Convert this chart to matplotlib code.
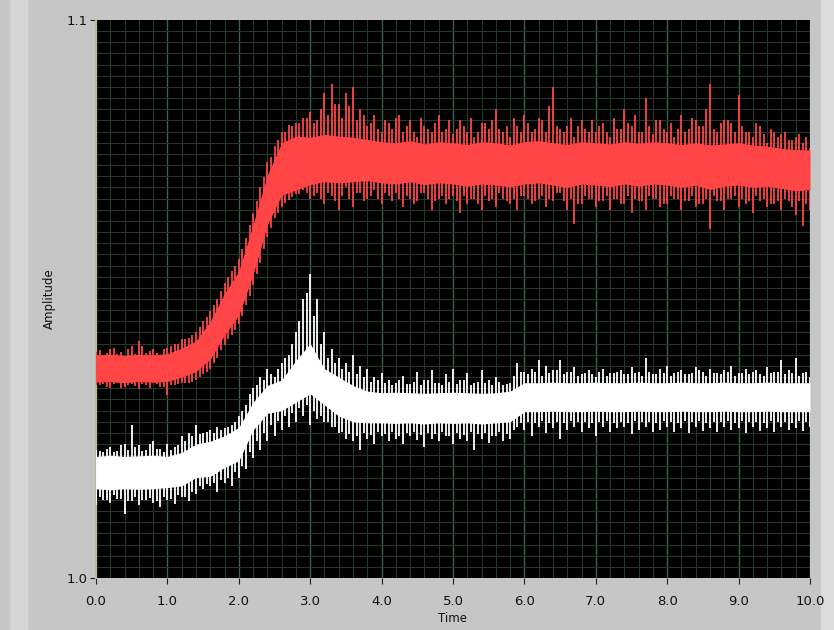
import numpy as np
import matplotlib
matplotlib.use("Agg")
import matplotlib.pyplot as plt
from matplotlib.ticker import MultipleLocator

# --- data ---
# core (solid) band, one value every 0.2 s
time_band = np.round(np.arange(0, 10.01, 0.2), 1)

red_core_lo = [1.0351, 1.0352, 1.0350, 1.0352, 1.0351, 1.0352, 1.0360, 1.0370, 1.0392, 1.0435,
               1.0471, 1.0543, 1.0633, 1.0686, 1.0695, 1.0705, 1.0710, 1.0708, 1.0710, 1.0712,
               1.0708, 1.0706, 1.0710, 1.0705, 1.0708, 1.0706, 1.0702, 1.0706, 1.0704, 1.0701,
               1.0706, 1.0708, 1.0704, 1.0700, 1.0706, 1.0704, 1.0701, 1.0706, 1.0702, 1.0706,
               1.0704, 1.0700, 1.0704, 1.0696, 1.0702, 1.0704, 1.0700, 1.0702, 1.0698, 1.0694,
               1.0696]
red_core_hi = [1.0400, 1.0401, 1.0399, 1.0401, 1.0400, 1.0402, 1.0412, 1.0425, 1.0460, 1.0510,
               1.0550, 1.0633, 1.0722, 1.0780, 1.0792, 1.0790, 1.0795, 1.0792, 1.0790, 1.0786,
               1.0782, 1.0780, 1.0784, 1.0778, 1.0782, 1.0780, 1.0777, 1.0782, 1.0780, 1.0776,
               1.0782, 1.0784, 1.0780, 1.0777, 1.0782, 1.0780, 1.0778, 1.0782, 1.0779, 1.0782,
               1.0780, 1.0777, 1.0780, 1.0776, 1.0778, 1.0780, 1.0776, 1.0774, 1.0770, 1.0768,
               1.0767]
white_core_lo = [1.0160, 1.0158, 1.0160, 1.0159, 1.0160, 1.0162, 1.0165, 1.0180, 1.0182, 1.0198,
                 1.0210, 1.0265, 1.0295, 1.0300, 1.0315, 1.0330, 1.0310, 1.0290, 1.0280, 1.0278,
                 1.0278, 1.0277, 1.0278, 1.0276, 1.0278, 1.0277, 1.0278, 1.0276, 1.0278, 1.0280,
                 1.0298, 1.0298, 1.0299, 1.0298, 1.0298, 1.0299, 1.0298, 1.0298, 1.0299, 1.0298,
                 1.0298, 1.0299, 1.0298, 1.0298, 1.0299, 1.0298, 1.0298, 1.0299, 1.0298, 1.0298,
                 1.0298]
white_core_hi = [1.0218, 1.0220, 1.0218, 1.0219, 1.0220, 1.0218, 1.0225, 1.0240, 1.0245, 1.0255,
                 1.0270, 1.0315, 1.0345, 1.0355, 1.0390, 1.0420, 1.0375, 1.0360, 1.0345, 1.0335,
                 1.0332, 1.0333, 1.0332, 1.0331, 1.0332, 1.0333, 1.0332, 1.0331, 1.0332, 1.0335,
                 1.0350, 1.0350, 1.0351, 1.0350, 1.0350, 1.0351, 1.0350, 1.0350, 1.0351, 1.0350,
                 1.0350, 1.0351, 1.0350, 1.0350, 1.0351, 1.0350, 1.0350, 1.0351, 1.0350, 1.0350,
                 1.0350]

# tall noise spikes (tip values), one every 0.1 s
time_spike = np.round(np.arange(0, 10.001, 0.1), 1)

red_peak = [1.0405, 1.0400, 1.0410, 1.0402, 1.0398, 1.0415, 1.0425, 1.0403, 1.0410, 1.0400,
            1.0412, 1.0420, 1.0428, 1.0430, 1.0440, 1.0460, 1.0478, 1.0500, 1.0528, 1.0550,
            1.0572, 1.0610, 1.0655, 1.0700, 1.0745, 1.0775, 1.0800, 1.0812, 1.0815, 1.0825,
            1.0835, 1.0820, 1.0870, 1.0885, 1.0850, 1.0870, 1.0880, 1.0840, 1.0810, 1.0830,
            1.0800, 1.0815, 1.0825, 1.0800, 1.0820, 1.0790, 1.0810, 1.0800, 1.0830, 1.0805,
            1.0795, 1.0820, 1.0800, 1.0790, 1.0815, 1.0805, 1.0840, 1.0800, 1.0790, 1.0810,
            1.0830, 1.0800, 1.0825, 1.0800, 1.0880, 1.0805, 1.0810, 1.0790, 1.0820, 1.0800,
            1.0800, 1.0815, 1.0790, 1.0805, 1.0840, 1.0810, 1.0800, 1.0860, 1.0795, 1.0820,
            1.0800, 1.0790, 1.0830, 1.0805, 1.0820, 1.0810, 1.0885, 1.0800, 1.0820, 1.0815,
            1.0865, 1.0800, 1.0790, 1.0810, 1.0780, 1.0800, 1.0795, 1.0785, 1.0790, 1.0780,
            1.0770]
red_dip = [1.0345, 1.0348, 1.0340, 1.0350, 1.0342, 1.0348, 1.0338, 1.0345, 1.0350, 1.0342,
           1.0328, 1.0345, 1.0350, 1.0350, 1.0355, 1.0365, 1.0375, 1.0395, 1.0418, 1.0435,
           1.0455, 1.0490, 1.0525, 1.0565, 1.0612, 1.0645, 1.0665, 1.0678, 1.0688, 1.0695,
           1.0680, 1.0690, 1.0670, 1.0685, 1.0660, 1.0700, 1.0665, 1.0690, 1.0680, 1.0695,
           1.0670, 1.0685, 1.0690, 1.0665, 1.0680, 1.0675, 1.0690, 1.0660, 1.0680, 1.0670,
           1.0685, 1.0655, 1.0670, 1.0680, 1.0660, 1.0675, 1.0665, 1.0680, 1.0670, 1.0660,
           1.0685, 1.0670, 1.0680, 1.0665, 1.0675, 1.0690, 1.0660, 1.0635, 1.0670, 1.0680,
           1.0665, 1.0675, 1.0660, 1.0680, 1.0670, 1.0655, 1.0675, 1.0660, 1.0680, 1.0665,
           1.0670, 1.0680, 1.0660, 1.0675, 1.0665, 1.0670, 1.0625, 1.0675, 1.0660, 1.0680,
           1.0665, 1.0670, 1.0655, 1.0675, 1.0665, 1.0670, 1.0660, 1.0675, 1.0650, 1.0630,
           1.0660]
white_peak = [1.0230, 1.0225, 1.0235, 1.0228, 1.0240, 1.0275, 1.0238, 1.0230, 1.0245, 1.0232,
              1.0240, 1.0235, 1.0255, 1.0260, 1.0275, 1.0260, 1.0265, 1.0270, 1.0268, 1.0275,
              1.0290, 1.0310, 1.0340, 1.0360, 1.0375, 1.0360, 1.0385, 1.0400, 1.0440, 1.0500,
              1.0545, 1.0500, 1.0440, 1.0410, 1.0395, 1.0385, 1.0400, 1.0380, 1.0375, 1.0360,
              1.0368, 1.0355, 1.0350, 1.0362, 1.0348, 1.0370, 1.0355, 1.0372, 1.0350, 1.0365,
              1.0375, 1.0355, 1.0368, 1.0350, 1.0372, 1.0355, 1.0360, 1.0345, 1.0350, 1.0385,
              1.0370, 1.0375, 1.0390, 1.0380, 1.0372, 1.0390, 1.0370, 1.0378, 1.0365, 1.0372,
              1.0360, 1.0375, 1.0368, 1.0370, 1.0365, 1.0378, 1.0370, 1.0395, 1.0365, 1.0375,
              1.0380, 1.0368, 1.0372, 1.0365, 1.0378, 1.0370, 1.0375, 1.0368, 1.0372, 1.0380,
              1.0368, 1.0375, 1.0370, 1.0365, 1.0378, 1.0370, 1.0390, 1.0372, 1.0395, 1.0368,
              1.0360]
white_dip = [1.0130, 1.0140, 1.0135, 1.0142, 1.0115, 1.0138, 1.0130, 1.0140, 1.0135, 1.0128,
             1.0140, 1.0132, 1.0145, 1.0138, 1.0150, 1.0160, 1.0165, 1.0155, 1.0170, 1.0165,
             1.0180, 1.0195, 1.0215, 1.0230, 1.0245, 1.0255, 1.0265, 1.0270, 1.0280, 1.0290,
             1.0275, 1.0285, 1.0280, 1.0270, 1.0260, 1.0250, 1.0245, 1.0230, 1.0250, 1.0240,
             1.0255, 1.0245, 1.0250, 1.0240, 1.0255, 1.0248, 1.0235, 1.0250, 1.0245, 1.0255,
             1.0240, 1.0250, 1.0245, 1.0230, 1.0250, 1.0242, 1.0255, 1.0245, 1.0250, 1.0270,
             1.0265, 1.0255, 1.0270, 1.0260, 1.0268, 1.0250, 1.0265, 1.0270, 1.0262, 1.0268,
             1.0255, 1.0270, 1.0262, 1.0268, 1.0270, 1.0258, 1.0265, 1.0270, 1.0262, 1.0266,
             1.0270, 1.0262, 1.0268, 1.0260, 1.0270, 1.0264, 1.0268, 1.0262, 1.0270, 1.0265,
             1.0268, 1.0260, 1.0270, 1.0264, 1.0268, 1.0262, 1.0270, 1.0266, 1.0268, 1.0264,
             1.0270]

# shorter in-between spikes, at 0.05, 0.15, ... 9.95 s
time_spike2 = np.round(np.arange(0.05, 10.0, 0.1), 2)

red_peak2 = [1.0408, 1.0403, 1.0412, 1.0405, 1.0410, 1.0402, 1.0415, 1.0406, 1.0403, 1.0410,
             1.0415, 1.0420, 1.0428, 1.0435, 1.0450, 1.0468, 1.0490, 1.0515, 1.0540, 1.0560,
             1.0590, 1.0632, 1.0675, 1.0718, 1.0755, 1.0785, 1.0800, 1.0810, 1.0815, 1.0825,
             1.0815, 1.0840, 1.0830, 1.0850, 1.0825, 1.0845, 1.0820, 1.0830, 1.0815, 1.0805,
             1.0820, 1.0805, 1.0830, 1.0810, 1.0800, 1.0825, 1.0805, 1.0815, 1.0800, 1.0820,
             1.0805, 1.0810, 1.0825, 1.0800, 1.0815, 1.0820, 1.0805, 1.0810, 1.0825, 1.0800,
             1.0815, 1.0805, 1.0820, 1.0845, 1.0810, 1.0800, 1.0825, 1.0810, 1.0805, 1.0820,
             1.0810, 1.0800, 1.0825, 1.0805, 1.0815, 1.0830, 1.0800, 1.0810, 1.0820, 1.0805,
             1.0815, 1.0805, 1.0800, 1.0825, 1.0810, 1.0840, 1.0805, 1.0815, 1.0820, 1.0800,
             1.0810, 1.0800, 1.0815, 1.0795, 1.0805, 1.0790, 1.0800, 1.0785, 1.0795, 1.0790]
red_dip2 = [1.0346, 1.0342, 1.0348, 1.0340, 1.0346, 1.0344, 1.0348, 1.0341, 1.0347, 1.0343,
            1.0346, 1.0348, 1.0350, 1.0352, 1.0360, 1.0370, 1.0386, 1.0408, 1.0428, 1.0445,
            1.0470, 1.0505, 1.0545, 1.0590, 1.0628, 1.0655, 1.0672, 1.0682, 1.0688, 1.0690,
            1.0685, 1.0680, 1.0690, 1.0675, 1.0685, 1.0680, 1.0690, 1.0675, 1.0685, 1.0680,
            1.0690, 1.0675, 1.0680, 1.0685, 1.0670, 1.0690, 1.0680, 1.0675, 1.0685, 1.0680,
            1.0675, 1.0685, 1.0680, 1.0670, 1.0685, 1.0680, 1.0690, 1.0675, 1.0680, 1.0685,
            1.0680, 1.0675, 1.0685, 1.0680, 1.0690, 1.0675, 1.0680, 1.0670, 1.0685, 1.0680,
            1.0675, 1.0685, 1.0680, 1.0670, 1.0685, 1.0680, 1.0675, 1.0685, 1.0680, 1.0670,
            1.0685, 1.0680, 1.0675, 1.0685, 1.0670, 1.0680, 1.0685, 1.0675, 1.0680, 1.0685,
            1.0680, 1.0675, 1.0685, 1.0680, 1.0670, 1.0675, 1.0680, 1.0665, 1.0675, 1.0670]
white_peak2 = [1.0228, 1.0232, 1.0225, 1.0238, 1.0230, 1.0235, 1.0228, 1.0240, 1.0232, 1.0226,
               1.0230, 1.0238, 1.0245, 1.0255, 1.0258, 1.0262, 1.0260, 1.0265, 1.0270, 1.0280,
               1.0300, 1.0330, 1.0345, 1.0355, 1.0365, 1.0375, 1.0395, 1.0420, 1.0460, 1.0510,
               1.0470, 1.0420, 1.0395, 1.0385, 1.0375, 1.0370, 1.0365, 1.0360, 1.0352, 1.0355,
               1.0350, 1.0345, 1.0355, 1.0348, 1.0352, 1.0345, 1.0355, 1.0350, 1.0345, 1.0352,
               1.0348, 1.0355, 1.0345, 1.0352, 1.0350, 1.0345, 1.0352, 1.0348, 1.0362, 1.0370,
               1.0365, 1.0370, 1.0362, 1.0368, 1.0372, 1.0365, 1.0370, 1.0362, 1.0368, 1.0365,
               1.0370, 1.0362, 1.0368, 1.0372, 1.0365, 1.0368, 1.0362, 1.0370, 1.0365, 1.0368,
               1.0362, 1.0370, 1.0365, 1.0368, 1.0372, 1.0362, 1.0368, 1.0365, 1.0370, 1.0362,
               1.0368, 1.0365, 1.0372, 1.0362, 1.0368, 1.0370, 1.0365, 1.0368, 1.0362, 1.0370]
white_dip2 = [1.0145, 1.0140, 1.0148, 1.0142, 1.0138, 1.0146, 1.0140, 1.0144, 1.0138, 1.0145,
              1.0142, 1.0148, 1.0146, 1.0155, 1.0165, 1.0168, 1.0170, 1.0175, 1.0180, 1.0190,
              1.0200, 1.0225, 1.0245, 1.0260, 1.0275, 1.0282, 1.0290, 1.0295, 1.0305, 1.0310,
              1.0300, 1.0290, 1.0280, 1.0270, 1.0262, 1.0258, 1.0255, 1.0260, 1.0256, 1.0262,
              1.0258, 1.0262, 1.0255, 1.0260, 1.0262, 1.0256, 1.0260, 1.0258, 1.0262, 1.0255,
              1.0260, 1.0256, 1.0262, 1.0258, 1.0260, 1.0255, 1.0262, 1.0258, 1.0265, 1.0278,
              1.0280, 1.0278, 1.0282, 1.0278, 1.0280, 1.0277, 1.0282, 1.0279, 1.0280, 1.0278,
              1.0279, 1.0282, 1.0278, 1.0280, 1.0277, 1.0281, 1.0279, 1.0280, 1.0278, 1.0282,
              1.0280, 1.0278, 1.0281, 1.0279, 1.0282, 1.0277, 1.0280, 1.0279, 1.0281, 1.0278,
              1.0281, 1.0279, 1.0280, 1.0278, 1.0282, 1.0279, 1.0280, 1.0277, 1.0281, 1.0279]

x_ticks = [0.0, 1.0, 2.0, 3.0, 4.0, 5.0, 6.0, 7.0, 8.0, 9.0, 10.0]
y_ticks = [1.0, 1.1]

# --- figure ---
fig = plt.figure(figsize=(8.34, 6.30), dpi=100, facecolor="#c6c6c6")
# lighter frame strips like the LabVIEW panel
fig.patches.append(plt.Rectangle((0.012, 0.0), 0.02, 1.0, transform=fig.transFigure,
                                 color="#d6d6d6", zorder=-1))
fig.patches.append(plt.Rectangle((0.985, 0.0), 0.015, 1.0, transform=fig.transFigure,
                                 color="#dcdcdc", zorder=-1))

ax = fig.add_axes([96 / 834, 52 / 630, 714 / 834, 558 / 630])
ax.set_facecolor("black")

red = "#ff4545"
white = "#ffffff"

ax.fill_between(time_band, red_core_lo, red_core_hi, color=red, lw=0, zorder=3)
ax.vlines(time_spike, red_dip, red_peak, color=red, lw=1.3, zorder=3)
ax.vlines(time_spike2, red_dip2, red_peak2, color=red, lw=1.3, zorder=3)
ax.fill_between(time_band, white_core_lo, white_core_hi, color=white, lw=0, zorder=3)
ax.vlines(time_spike, white_dip, white_peak, color=white, lw=1.3, zorder=3)
ax.vlines(time_spike2, white_dip2, white_peak2, color=white, lw=1.3, zorder=3)

ax.set_xlim(0, 10)
ax.set_ylim(1.0, 1.1)
ax.set_xticks(x_ticks)
ax.set_xticklabels([f"{v:.1f}" for v in x_ticks])
ax.set_yticks(y_ticks)
ax.set_yticklabels([f"{v:.1f}" for v in y_ticks])
ax.xaxis.set_minor_locator(MultipleLocator(0.2))
ax.yaxis.set_minor_locator(MultipleLocator(0.002))

ax.grid(which="minor", color="#24372a", lw=0.8, zorder=1)
ax.grid(which="major", axis="x", color="#3f5f46", lw=1.0, zorder=2)
ax.tick_params(which="minor", length=0)
ax.tick_params(which="major", direction="out", length=4, width=0.8, color="#202020",
               labelsize=9.5, labelcolor="#111111")
ax.tick_params(axis="x", which="major", pad=8)
ax.tick_params(axis="y", which="major", pad=2)

for side in ["top", "right", "bottom"]:
    ax.spines[side].set_visible(False)
ax.spines["left"].set_color("#bdbd8a")
ax.spines["left"].set_linewidth(1.5)

ax.set_xlabel("Time", fontsize=8.5, color="#111111", labelpad=3)
ax.set_ylabel("Amplitude", fontsize=8.5, color="#111111", labelpad=8)

fig.savefig("out.png", dpi=100, facecolor=fig.get_facecolor())
